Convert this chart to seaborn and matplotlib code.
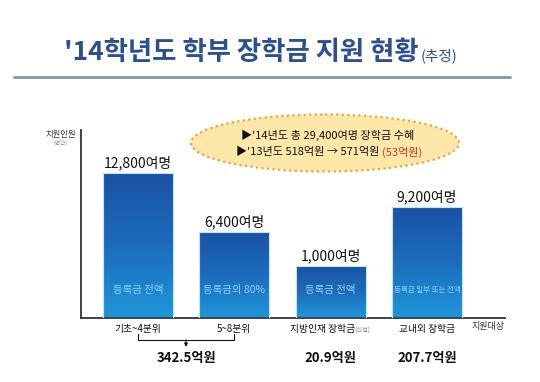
import matplotlib
matplotlib.use("Agg")
import matplotlib.pyplot as plt
import numpy as np
import seaborn as sns
from matplotlib.patches import Ellipse
from matplotlib.colors import LinearSegmentedColormap

categories = ["기초~4분위", "5~8분위", "지방인재 장학금", "교내외 장학금"]
bar_heights = [145, 86, 52, 111]  # drawn heights (chart is not to scale)
count_labels = ["12,800여명", "6,400여명", "1,000여명", "9,200여명"]
inside_labels = ["등록금 전액", "등록금의 80%", "등록금 전액", "등록금 일부 또는 전액"]
budget_labels = ["342.5억원", "20.9억원", "207.7억원"]
budget_x = [0.5, 2, 3]

sns.set_theme(style="white")
FONT = ["Noto Sans CJK KR", "DejaVu Sans"]
plt.rcParams["font.family"] = FONT

fig = plt.figure(figsize=(5.4, 3.82), dpi=100)
ax = fig.add_axes([81 / 540, 64 / 382, 424 / 540, 188 / 382])

sns.barplot(x=categories, y=bar_heights, ax=ax, width=0.727,
            color="#1f78c8", saturation=1, edgecolor="#bfe3f7", linewidth=0.8)
ax.set_xlim(-0.592, 3.811)
ax.set_ylim(0, 188)

# vertical gradient inside each bar
cmap = LinearSegmentedColormap.from_list("bar", ["#1f97da", "#1c6cbc", "#1a52a4"])
grad = np.linspace(0, 1, 256).reshape(-1, 1)
for p in ax.patches:
    x0, y0, w, h = p.get_x(), p.get_y(), p.get_width(), p.get_height()
    im = ax.imshow(grad, cmap=cmap, aspect="auto", origin="lower",
                   extent=[x0, x0 + w, y0, y0 + h], zorder=p.get_zorder())
    im.set_clip_path(p)
    p.set_facecolor("none")
    p.set_zorder(3)

for i, (h, lab, inner) in enumerate(zip(bar_heights, count_labels, inside_labels)):
    ax.text(i, h + 3, lab, ha="center", va="bottom", fontsize=10, color="#111111")
    ax.text(i, 28, inner, ha="center", va="center",
            fontsize=5.4 if i == 3 else 7.5, color="#8fd0f2", zorder=5)

ax.set_xticks([])
ax.set_yticks([])
ax.set_xlabel("")
ax.set_ylabel("")
for s in ["top", "right"]:
    ax.spines[s].set_visible(False)
for s in ["left", "bottom"]:
    ax.spines[s].set_color("#333333")
    ax.spines[s].set_linewidth(1.3)

for i, cat in enumerate(categories):
    dx = -6 if i == 2 else 0
    ax.annotate(cat, (i, 0), xytext=(dx, -4), textcoords="offset points",
                ha="center", va="top", fontsize=7, color="#111111")
ax.annotate("(신설)", (2, 0), xytext=(17, -6), textcoords="offset points",
            ha="left", va="top", fontsize=4.5, color="#888888")

for x, lab in zip(budget_x, budget_labels):
    ax.annotate(lab, (x, 0), xytext=(0, -29), textcoords="offset points",
                ha="center", va="center", fontsize=9.5, fontweight="bold", color="#111111")

# overlay in pixel coordinates for decorations
ov = fig.add_axes([0, 0, 1, 1], zorder=5)
ov.set_xlim(0, 540)
ov.set_ylim(382, 0)
ov.axis("off")
ov.patch.set_alpha(0)

ov.text(241, 52, "'14학년도 학부 장학금 지원 현황", ha="center", va="center",
        fontsize=19, fontweight="bold", color="#2b4f91")
ov.text(421, 56, "(추정)", ha="left", va="center", fontsize=10.5, color="#2b4f91")
ov.plot([14, 510], [77, 77], color="#8094b8", lw=2)

ov.text(76, 134, "지원인원", ha="right", va="center", fontsize=6, color="#333333")
ov.text(68, 143, "(연간)", ha="right", va="center", fontsize=4, color="#888888")
ov.text(488, 326, "지원대상", ha="center", va="center", fontsize=6.5, color="#333333")

ell = Ellipse((325, 143), 268, 57, facecolor="#fde8aa", edgecolor="#f0a23a",
              linestyle=(0, (1, 1.5)), lw=1.6)
ov.add_patch(ell)
ov.text(241, 135, "▶'14년도 총 29,400여명 장학금 수혜", ha="left", va="center",
        fontsize=8, fontweight="medium", color="#111111")
t2 = ov.text(236, 152, "▶'13년도 518억원 → 571억원 ", ha="left", va="center",
             fontsize=8, fontweight="medium", color="#111111")
ov.annotate("(53억원)", xy=(1, 0.5), xycoords=t2, ha="left", va="center",
            fontsize=8, fontweight="medium", color="#d0312d")

# bracket joining the first two groups
ov.plot([138, 138, 234, 234], [334, 340, 340, 334], color="#111111", lw=0.8)
ov.annotate("", xy=(186, 347), xytext=(186, 340),
            arrowprops=dict(arrowstyle="-|>", color="#111111", lw=0.8,
                            mutation_scale=5, shrinkA=0, shrinkB=0))

fig.savefig("out.png", dpi=100)
